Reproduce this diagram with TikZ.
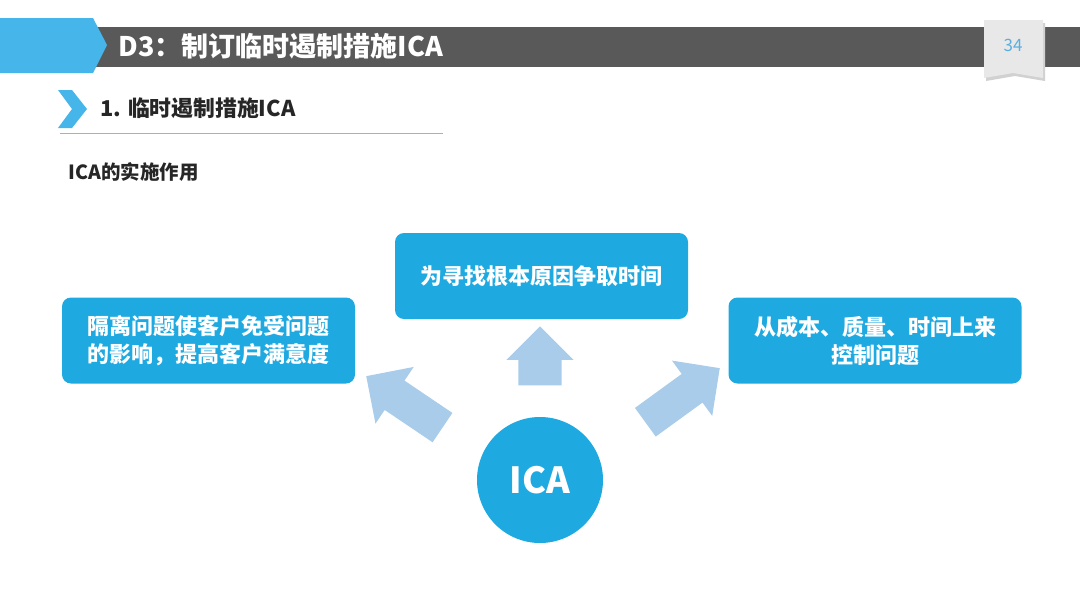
\documentclass[tikz,border=0pt]{standalone}
\usepackage{fontspec}
\setmainfont{Noto Sans CJK SC}
\usepackage{tikz}
\usetikzlibrary{
  arrows.meta,
  shapes.arrows,
  positioning,
  shadows
}
\definecolor{barGrey}{HTML}{595959}
\definecolor{tabBlue}{HTML}{45B5EA}
\definecolor{boxBlue}{HTML}{1EA9E1}
\definecolor{arrowBlue}{HTML}{A8CCEA}
\definecolor{ruleBlue}{HTML}{8FB8D6}
\definecolor{tagGrey}{HTML}{E8E8E8}
\definecolor{numBlue}{HTML}{5AAEE0}
\tikzset{
  effect box/.style={
    rectangle, rounded corners=9pt,
    minimum width=293pt, minimum height=86pt,
    fill=boxBlue, text=white, align=center,
    font=\fontsize{22}{28}\selectfont\bfseries
  },
  fat arrow/.style={
    single arrow, fill=arrowBlue, inner xsep=0pt, anchor=tip
  },
  ica core/.style={
    circle, fill=boxBlue, minimum size=126pt, inner sep=0pt,
    text=white, font=\fontsize{36}{40}\selectfont\bfseries
  },
}

\begin{document}
\begin{tikzpicture}[x=1pt, y=-1pt]
  \useasboundingbox (0,0) rectangle (1080,608);

  % Title bar
  \fill[barGrey] (90,27) rectangle (1080,67);
  \fill[tabBlue] (0,18) -- (93,18) -- (107,45) -- (93,73) -- (0,73) -- cycle;
  \node[anchor=west, text=white, font=\fontsize{27}{30}\selectfont\bfseries]
    (title) at (115,46) {D3：制订临时遏制措施ICA};

  % Page tag
  \fill[black!18] (986,23) -- (1045,23) -- (1045,81) -- (1015,76) -- (986,81) -- cycle;
  \fill[tagGrey] (984,20) -- (1043,20) -- (1043,78) -- (1013,73) -- (984,78) -- cycle;
  \node[text=numBlue, font=\fontsize{17}{20}\selectfont] (page) at (1013,45) {34};

  % Section heading
  \fill[tabBlue] (58,90) -- (72,90) -- (87,109) -- (72,128) -- (58,128) -- (72,109) -- cycle;
  \node[anchor=west, text=black!85, font=\fontsize{21.8}{24}\selectfont\bfseries]
    (section) at (97,108) {1. 临时遏制措施ICA};
  \draw[ruleBlue, line width=1pt] (60,133) -- (443,133);
  \node[anchor=west, text=black!85, font=\fontsize{19.5}{22}\selectfont\bfseries]
    (caption) at (65,172) {ICA的实施作用};

  % Effects of ICA
  \node[effect box] (rootcause) at (541.5,276) {为寻找根本原因争取时间};
  \node[effect box] (isolate) at (208.5,340.5) {隔离问题使客户免受问题\\的影响，提高客户满意度};
  \node[effect box] (costctrl) at (875,340.5) {从成本、质量、时间上来\\控制问题};

  % Center
  \node[ica core] (ica) at (540,480) {ICA};

  % Block arrows, placed by their tips
  \node[fat arrow, minimum height=59pt, inner ysep=21.5pt,
    single arrow head extend=12pt, rotate=90] (uparrow) at (540,326) {};
  \node[fat arrow, minimum height=92pt, inner ysep=17.5pt,
    single arrow head extend=16.5pt, rotate=146] (leftarrow) at (366,376) {};
  \node[fat arrow, minimum height=92pt, inner ysep=17.5pt,
    single arrow head extend=16.5pt, rotate=36] (rightarrow) at (720,368) {};

\end{tikzpicture}
\end{document}
